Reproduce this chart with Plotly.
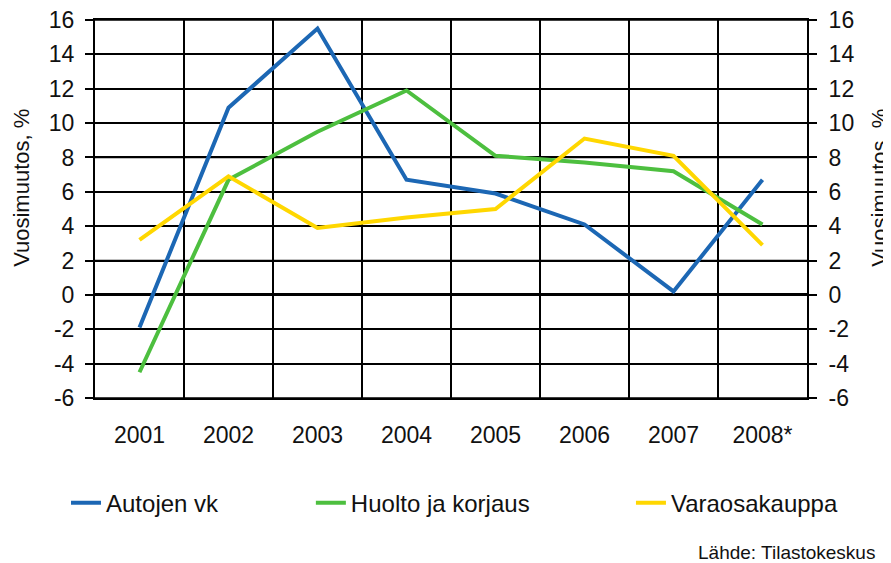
import plotly.graph_objects as go

years = ["2001", "2002", "2003", "2004", "2005", "2006", "2007", "2008*"]
autojen_vk = [-1.9, 10.9, 15.5, 6.7, 5.9, 4.1, 0.2, 6.7]
huolto_ja_korjaus = [-4.5, 6.7, 9.5, 11.9, 8.1, 7.7, 7.2, 4.1]
varaosakauppa = [3.2, 6.9, 3.9, 4.5, 5.0, 9.1, 8.1, 2.9]
y_ticks = list(range(-6, 17, 2))
y_ticktext = [str(v) for v in y_ticks]
axis_title = "Vuosimuutos, %"
source_text = "Lähde: Tilastokeskus"

series = [
    ("Autojen vk", autojen_vk, "#1C67B4", "legend"),
    ("Huolto ja korjaus", huolto_ja_korjaus, "#4DBF3F", "legend2"),
    ("Varaosakauppa", varaosakauppa, "#FFD700", "legend3"),
]

xpos = list(range(len(years)))
fig = go.Figure()
for name, vals, col, leg in series:
    fig.add_trace(go.Scatter(x=xpos, y=vals, mode="lines", name=name, legend=leg,
                             line=dict(color=col, width=4)))
# invisible trace to activate the right-hand axis
fig.add_trace(go.Scatter(x=xpos, y=varaosakauppa, yaxis="y2", mode="lines",
                         line=dict(color="rgba(0,0,0,0)", width=0),
                         showlegend=False, hoverinfo="skip"))

# horizontal gridlines at the tick values
for v in y_ticks:
    if v != 0:
        fig.add_shape(type="line", xref="paper", yref="y", x0=0, x1=1, y0=v, y1=v,
                      line=dict(color="black", width=1.5), layer="below")

font = "Liberation Sans, Arial, sans-serif"
yax = dict(range=[-6, 16], tickvals=y_ticks, ticktext=y_ticktext, ticks="outside",
           ticklen=8, tickcolor="black", tickwidth=1.5, showgrid=True, gridcolor="black",
           gridwidth=1.5, zeroline=True, zerolinecolor="black", zerolinewidth=3,
           showline=True, linecolor="black", linewidth=2, ticklabelstandoff=6,
           automargin=False, ticklabeloverflow="allow",
           tickfont=dict(family=font, size=23, color="#111"),
           fixedrange=True)

legfont = dict(family=font, size=24, color="#111")
legcommon = dict(orientation="h", yanchor="middle", xanchor="left",
                 xref="container", yref="container", y=0.108,
                 font=legfont, bgcolor="rgba(0,0,0,0)", borderwidth=0)

fig.update_layout(
    width=883, height=555,
    margin=dict(l=87, r=84, t=12, b=165),
    plot_bgcolor="white", paper_bgcolor="white",
    xaxis=dict(range=[-0.5, len(years) - 0.5], tickvals=xpos, ticktext=years,
               showgrid=False, zeroline=False, ticks="", ticklabelstandoff=15,
               showline=True, mirror=True, linecolor="black", linewidth=2,
               automargin=False,
               tickfont=dict(family=font, size=23, color="#111"),
               minor=dict(tickvals=[i - 0.5 for i in range(len(years) + 1)],
                          showgrid=True, gridcolor="black", gridwidth=2)),
    yaxis=yax,
    yaxis2=dict(yax, overlaying="y", side="right", ticklabelstandoff=7),
    legend=dict(legcommon, x=0.0657),
    legend2=dict(legcommon, x=0.343),
    legend3=dict(legcommon, x=0.7055),
    showlegend=True,
)
for xp in (-0.1025, 1.1025):
    fig.add_annotation(text=axis_title, xref="paper", yref="paper", x=xp, y=0.556,
                       textangle=-90, xanchor="center", yanchor="middle", showarrow=False,
                       font=dict(family=font, size=22, color="#111"))
fig.add_annotation(text=source_text, xref="paper", yref="paper",
                   x=1.098, y=-0.41, xanchor="right", yanchor="middle",
                   showarrow=False, font=dict(family=font, size=19, color="#111"))
fig.write_html("out.html")
